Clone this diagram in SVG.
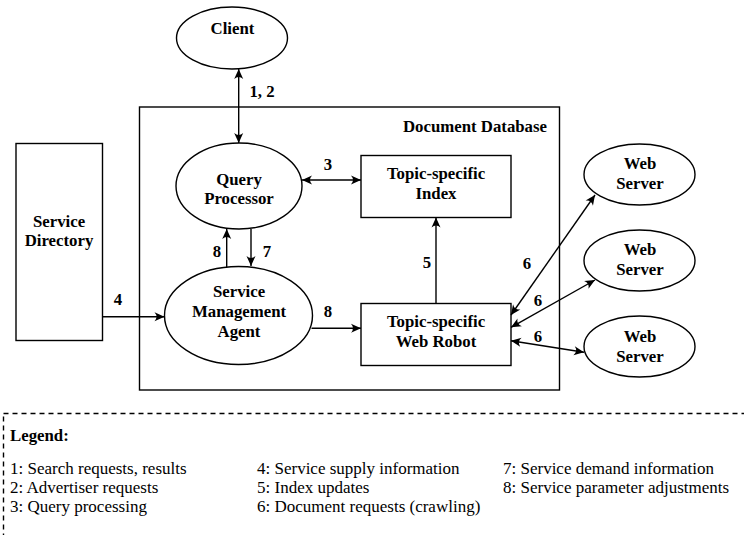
<svg xmlns="http://www.w3.org/2000/svg" width="744" height="535" viewBox="0 0 744 535">
<style>
.s{fill:none;stroke:#000;stroke-width:1.4}
.n{fill:#fff;stroke:#000;stroke-width:1.4}
.b{font-family:"Liberation Serif","Times New Roman",serif;font-weight:bold;font-size:16.8px;fill:#000}
.m{text-anchor:middle}
.l{font-family:"Liberation Serif","Times New Roman",serif;font-size:17px;fill:#000}
.c{fill:none;stroke:#000;stroke-width:1.4}
</style>
<defs>
<marker id="ah" viewBox="-11 -6 12 12" refX="0" refY="0" markerWidth="12" markerHeight="12" markerUnits="userSpaceOnUse" orient="auto-start-reverse">
<path d="M0,0 L-10,-4.5 Q-6,0 -10,4.5 Z" fill="#000"/>
</marker>
</defs>
<g id="document-database">
<rect x="139.5" y="107" width="420" height="283" class="s"/>
<text x="547" y="132" class="b" text-anchor="end">Document Database</text>
</g>
<g id="client">
<ellipse cx="232" cy="38" rx="55.5" ry="31" class="n"/>
<text x="232.5" y="34" class="b m">Client</text>
</g>
<g id="service-directory">
<rect x="16" y="143.5" width="86.5" height="197" class="n"/>
<text x="59" y="226.5" class="b m">Service</text>
<text x="59" y="246" class="b m">Directory</text>
</g>
<g id="query-processor">
<ellipse cx="239" cy="186" rx="63" ry="43" class="n"/>
<text x="239" y="185" class="b m">Query</text>
<text x="239" y="204" class="b m">Processor</text>
</g>
<g id="service-management-agent">
<ellipse cx="238.5" cy="315.5" rx="74" ry="49" class="n"/>
<text x="239" y="297" class="b m">Service</text>
<text x="239" y="317" class="b m">Management</text>
<text x="239" y="336.5" class="b m">Agent</text>
</g>
<g id="topic-index">
<rect x="361" y="155.5" width="150" height="62" class="n"/>
<text x="436" y="179" class="b m">Topic-specific</text>
<text x="436" y="199" class="b m">Index</text>
</g>
<g id="topic-web-robot">
<rect x="361" y="303.5" width="150" height="62" class="n"/>
<text x="436" y="326.5" class="b m">Topic-specific</text>
<text x="436" y="346.5" class="b m">Web Robot</text>
</g>
<g id="web-server-1">
<ellipse cx="639.5" cy="174.5" rx="55.5" ry="30.5" class="n"/>
<text x="640" y="169" class="b m">Web</text>
<text x="640" y="189" class="b m">Server</text>
</g>
<g id="web-server-2">
<ellipse cx="639.5" cy="260.5" rx="55.5" ry="30.5" class="n"/>
<text x="640" y="255" class="b m">Web</text>
<text x="640" y="275" class="b m">Server</text>
</g>
<g id="web-server-3">
<ellipse cx="639.5" cy="346.5" rx="55.5" ry="30.5" class="n"/>
<text x="640" y="341.5" class="b m">Web</text>
<text x="640" y="361.5" class="b m">Server</text>
</g>
<g id="connectors">
<line x1="238.7" y1="69" x2="238.7" y2="143" class="c" marker-start="url(#ah)" marker-end="url(#ah)"/>
<line x1="302" y1="180" x2="361" y2="180" class="c" marker-start="url(#ah)" marker-end="url(#ah)"/>
<line x1="102.5" y1="316.7" x2="164.5" y2="316.7" class="c" marker-end="url(#ah)"/>
<line x1="436" y1="303.5" x2="436" y2="217.5" class="c" marker-end="url(#ah)"/>
<line x1="251" y1="229" x2="251" y2="266" class="c" marker-end="url(#ah)"/>
<line x1="226.7" y1="267" x2="226.7" y2="229" class="c" marker-end="url(#ah)"/>
<line x1="311.5" y1="328.3" x2="361" y2="328.3" class="c" marker-end="url(#ah)"/>
<line x1="511" y1="315" x2="595" y2="195" class="c" marker-start="url(#ah)" marker-end="url(#ah)"/>
<line x1="511" y1="327.3" x2="595" y2="280" class="c" marker-start="url(#ah)" marker-end="url(#ah)"/>
<line x1="511" y1="340.7" x2="584" y2="352.3" class="c" marker-start="url(#ah)" marker-end="url(#ah)"/>
<text x="262" y="97" class="b m">1, 2</text>
<text x="328" y="170" class="b m">3</text>
<text x="118" y="305" class="b m">4</text>
<text x="427" y="268" class="b m">5</text>
<text x="217" y="257" class="b m">8</text>
<text x="267" y="257" class="b m">7</text>
<text x="328" y="317" class="b m">8</text>
<text x="527" y="268.5" class="b m">6</text>
<text x="538" y="306" class="b m">6</text>
<text x="538" y="342" class="b m">6</text>
</g>
<g id="legend">
<rect x="3.5" y="413.5" width="780" height="160" fill="none" stroke="#000" stroke-width="1.4" stroke-dasharray="5,4"/>
<text x="10" y="441" class="b">Legend:</text>
<text x="10" y="473.5" class="l">1: Search requests, results</text>
<text x="10" y="492.5" class="l">2: Advertiser requests</text>
<text x="10" y="511.5" class="l">3: Query processing</text>
<text x="257" y="473.5" class="l">4: Service supply information</text>
<text x="257" y="492.5" class="l">5: Index updates</text>
<text x="257" y="511.5" class="l">6: Document requests (crawling)</text>
<text x="503" y="473.5" class="l">7: Service demand information</text>
<text x="503" y="492.5" class="l">8: Service parameter adjustments</text>
</g>
</svg>
